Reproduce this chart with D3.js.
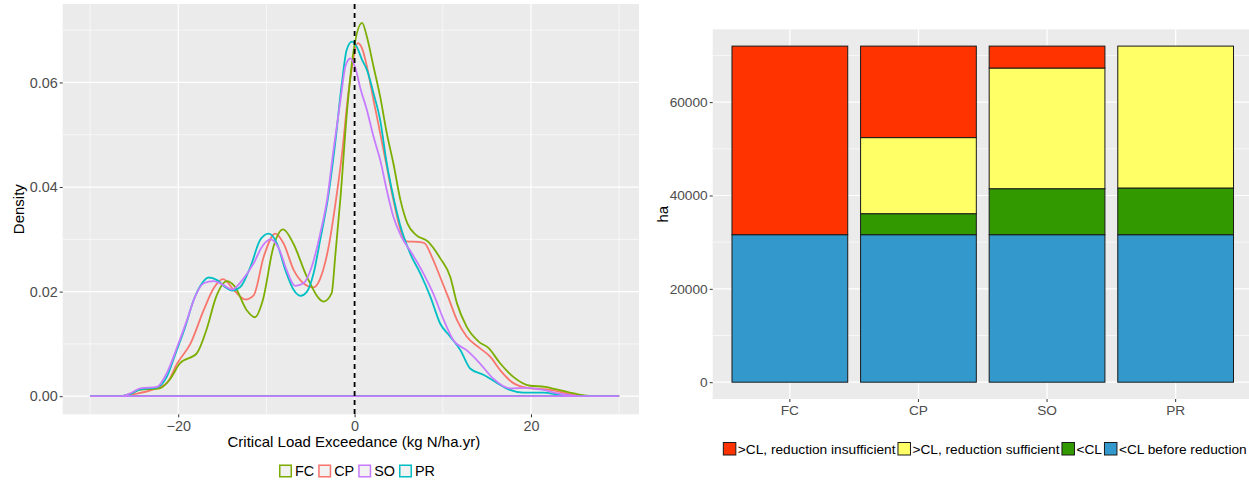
<!DOCTYPE html>
<html>
<head>
<meta charset="utf-8">
<script src="https://cdn.jsdelivr.net/npm/d3@7"></script>
<style>
  body { margin: 0; background: #fff; }
  svg { display: block; font-family: "Liberation Sans", Arial, sans-serif; }
</style>
</head>
<body>
<div id="chart"></div>
<script>
// Density curves, [exceedance, density]
var densFC = [[-30,0],[-26.5,0],[-25.5,0.0004],[-24.4,0.0012],[-22.1,0.0015],[-21.0,0.0031],[-19.8,0.0063],[-17.9,0.0082],[-16.8,0.0127],[-15.7,0.019],[-14.5,0.022],[-13.6,0.021],[-12.25,0.0165],[-11.3,0.0151],[-10.4,0.0184],[-9.2,0.0286],[-8.1,0.0319],[-6.95,0.0292],[-5.4,0.0228],[-3.5,0.0181],[-2.6,0.0197],[-2.2,0.0267],[-1.6,0.038],[-0.85,0.0547],[-0.1,0.0662],[0.85,0.0714],[1.4,0.0687],[2.15,0.063],[2.9,0.0573],[3.65,0.0503],[4.4,0.0445],[5.2,0.0375],[6.0,0.033],[7.0,0.0308],[8.3,0.0296],[9.7,0.0264],[10.85,0.0228],[11.6,0.0178],[12.7,0.0133],[14.1,0.0104],[15.2,0.0092],[16.5,0.0063],[18.0,0.0037],[19.9,0.002],[21.6,0.0018],[22.9,0.0013],[24.4,0.0007],[25.9,0.0002],[27,0],[30,0]];
var densCP = [[-30,0],[-26.5,0],[-25,0.0004],[-22.8,0.0013],[-21.3,0.0025],[-20.1,0.0063],[-18.6,0.0101],[-17.1,0.0165],[-16.0,0.0206],[-14.9,0.0224],[-13.7,0.0203],[-12.4,0.0185],[-11.45,0.0193],[-10.3,0.0267],[-9.0,0.0311],[-8.05,0.0292],[-6.9,0.0241],[-5.8,0.0216],[-4.65,0.0208],[-3.9,0.0225],[-2.9,0.029],[-2.2,0.0365],[-1.45,0.046],[-0.7,0.058],[-0.1,0.0649],[0.35,0.0675],[0.85,0.0665],[1.4,0.063],[2.15,0.0566],[2.9,0.0503],[3.65,0.0439],[4.4,0.0375],[5.2,0.0318],[5.9,0.0296],[7.2,0.0295],[7.9,0.0293],[8.75,0.0267],[9.7,0.0228],[10.6,0.019],[11.6,0.0146],[12.7,0.0114],[14.2,0.0092],[15.35,0.0076],[16.5,0.005],[18.0,0.0025],[19.9,0.0015],[21.8,0.0013],[23.7,0.0007],[25.2,0.0002],[26.5,0],[30,0]];
var densSO = [[-30,0],[-26.5,0],[-25.5,0.0005],[-24.3,0.0015],[-22.4,0.0018],[-21.3,0.0044],[-20.1,0.0095],[-19.0,0.0146],[-18.1,0.019],[-17.1,0.0216],[-16.0,0.022],[-14.9,0.0213],[-13.9,0.0204],[-12.6,0.0225],[-11.45,0.0254],[-10.5,0.0286],[-9.55,0.03],[-8.6,0.0283],[-7.7,0.0241],[-6.75,0.0211],[-5.8,0.0216],[-4.85,0.0248],[-3.9,0.0311],[-3.1,0.0378],[-2.4,0.047],[-1.6,0.0566],[-1.05,0.063],[-0.5,0.0646],[0.1,0.0627],[0.65,0.0589],[1.4,0.0547],[2.15,0.0496],[2.9,0.0452],[3.65,0.0394],[4.4,0.0343],[5.3,0.0305],[6.5,0.0273],[7.8,0.0235],[8.9,0.0197],[10.1,0.0146],[11.2,0.0107],[12.7,0.0088],[14.2,0.0063],[15.7,0.0034],[17.6,0.0015],[19.5,0.0016],[21.4,0.0012],[22.9,0.0006],[24.4,0.0002],[25.5,0],[30,0]];
var densPR = [[-30,0],[-26.5,0],[-25.5,0.0004],[-24.3,0.0013],[-22.4,0.0017],[-21.3,0.0037],[-20.3,0.0082],[-19.2,0.0133],[-18.25,0.0184],[-17.3,0.0216],[-16.55,0.0227],[-15.6,0.0222],[-14.7,0.0209],[-13.9,0.0202],[-12.95,0.0209],[-11.8,0.0248],[-10.7,0.0299],[-9.75,0.0311],[-8.8,0.0292],[-7.85,0.0241],[-6.9,0.0203],[-6.15,0.0192],[-5.4,0.02],[-4.65,0.0235],[-3.9,0.0299],[-3.0,0.0381],[-2.2,0.0484],[-1.45,0.0598],[-0.9,0.0662],[-0.3,0.0678],[0.25,0.0668],[0.85,0.0643],[1.4,0.0624],[2.15,0.0579],[2.9,0.0528],[3.65,0.0445],[4.4,0.0381],[5.2,0.0325],[6.3,0.0273],[7.45,0.0235],[8.6,0.019],[9.7,0.0139],[10.85,0.0114],[12.0,0.0088],[13.1,0.0053],[14.6,0.0041],[16.1,0.0026],[17.6,0.0012],[19.1,0.0007],[21.4,0.0007],[23.3,0.0002],[24.5,0],[30,0]];

var densTicksX = [-20, 0, 20];
var densTicksY = [0, 0.02, 0.04, 0.06];

// Stacked bars (ha)
var sites = ["FC", "CP", "SO", "PR"];
var belowBefore = [31600, 31600, 31600, 31600];
var belowCL = [0, 4500, 9850, 10000];
var sufficient = [0, 16300, 25850, 30400];
var insufficient = [40400, 19600, 4700, 0];
var barTicksY = [0, 20000, 40000, 60000];

var svg = d3.select("#chart").append("svg")
  .attr("width", 1249)
  .attr("height", 482);

// ---------------- left: density plot ----------------
var L = { left: 62.7, right: 639, top: 4, bottom: 414.3 };

var x = d3.scaleLinear().domain([-33.1, 32.25]).range([L.left, L.right]);
var y = d3.scaleLinear().domain([-0.00346, 0.075]).range([L.bottom, L.top]);

svg.append("rect")
  .attr("x", L.left).attr("y", L.top)
  .attr("width", L.right - L.left).attr("height", L.bottom - L.top)
  .attr("fill", "#EBEBEB");

var gl = svg.append("g");
[-30, -10, 10, 30].forEach(function (v) {
  gl.append("line").attr("x1", x(v)).attr("x2", x(v))
    .attr("y1", L.top).attr("y2", L.bottom)
    .attr("stroke", "#fff").attr("stroke-width", 0.6);
});
[0.01, 0.03, 0.05, 0.07].forEach(function (v) {
  gl.append("line").attr("y1", y(v)).attr("y2", y(v))
    .attr("x1", L.left).attr("x2", L.right)
    .attr("stroke", "#fff").attr("stroke-width", 0.6);
});
densTicksX.forEach(function (v) {
  gl.append("line").attr("x1", x(v)).attr("x2", x(v))
    .attr("y1", L.top).attr("y2", L.bottom)
    .attr("stroke", "#fff").attr("stroke-width", 1.2);
});
densTicksY.forEach(function (v) {
  gl.append("line").attr("y1", y(v)).attr("y2", y(v))
    .attr("x1", L.left).attr("x2", L.right)
    .attr("stroke", "#fff").attr("stroke-width", 1.2);
});

var line = d3.line()
  .x(function (d) { return x(d[0]); })
  .y(function (d) { return y(d[1]); })
  .curve(d3.curveMonotoneX);

// draw in ggplot group order so SO ends on top
var series = [
  { name: "CP", data: densCP, color: "#F8766D" },
  { name: "FC", data: densFC, color: "#7CAE00" },
  { name: "PR", data: densPR, color: "#00BFC4" },
  { name: "SO", data: densSO, color: "#C77CFF" }
];
series.forEach(function (s) {
  svg.append("path")
    .attr("d", line(s.data) + "Z")
    .attr("fill", "none")
    .attr("stroke", s.color)
    .attr("stroke-width", 1.8);
});

svg.append("line")
  .attr("x1", x(0)).attr("x2", x(0))
  .attr("y1", L.top).attr("y2", L.bottom)
  .attr("stroke", "#000").attr("stroke-width", 1.8)
  .attr("stroke-dasharray", "5,4");

var xAxis = svg.append("g")
  .attr("transform", "translate(0," + L.bottom + ")")
  .call(d3.axisBottom(x).tickValues(densTicksX).tickSize(3).tickPadding(3).tickFormat(d3.format("d")));
var yAxis = svg.append("g")
  .attr("transform", "translate(" + L.left + ",0)")
  .call(d3.axisLeft(y).tickValues(densTicksY).tickSize(3).tickPadding(2).tickFormat(d3.format(".2f")));
[xAxis, yAxis].forEach(function (a) {
  a.select(".domain").remove();
  a.selectAll(".tick line").attr("stroke", "#333");
  a.selectAll(".tick text").attr("fill", "#4D4D4D").style("font-size", "14.4px");
});

svg.append("text")
  .attr("x", (L.left + L.right) / 2 + 3).attr("y", 447)
  .attr("text-anchor", "middle").style("font-size", "15px")
  .text("Critical Load Exceedance (kg N/ha.yr)");

svg.append("text")
  .attr("transform", "translate(24," + (L.top + L.bottom) / 2 + ") rotate(-90)")
  .attr("text-anchor", "middle").style("font-size", "15px")
  .text("Density");

// legend, FC CP SO PR
var legendOrder = ["FC", "CP", "SO", "PR"];
var lg = svg.append("g");
var lx = 0;
legendOrder.forEach(function (name) {
  var s = series.filter(function (d) { return d.name === name; })[0];
  var item = lg.append("g").attr("transform", "translate(" + lx + ",0)");
  item.append("rect").attr("x", 0).attr("y", 0).attr("width", 13).attr("height", 13)
    .attr("fill", "#F2F2F2");
  item.append("rect").attr("x", 0.75).attr("y", 0.75).attr("width", 11.5).attr("height", 11.5)
    .attr("fill", "none").attr("stroke", s.color).attr("stroke-width", 1.5);
  var t = item.append("text").attr("x", 16).attr("y", 6.5).attr("dy", "0.36em")
    .style("font-size", "14.4px").text(name);
  lx += 16 + t.node().getComputedTextLength() + 4;
});
lg.attr("transform", "translate(" + (357 - (lx - 4) / 2) + ",464.5)");

// ---------------- right: stacked bars ----------------
var R = { left: 712.7, right: 1252.8, top: 29.3, bottom: 399 };

var xb = d3.scaleBand().domain(sites).range([R.left, R.right])
  .paddingInner(0.1).paddingOuter(0.15);
var yb = d3.scaleLinear().domain([-3600, 75600]).range([R.bottom, R.top]);

svg.append("rect")
  .attr("x", R.left).attr("y", R.top)
  .attr("width", R.right - R.left).attr("height", R.bottom - R.top)
  .attr("fill", "#EBEBEB");

[10000, 30000, 50000, 70000].forEach(function (v) {
  svg.append("line").attr("y1", yb(v)).attr("y2", yb(v))
    .attr("x1", R.left).attr("x2", R.right)
    .attr("stroke", "#fff").attr("stroke-width", 0.6);
});
barTicksY.forEach(function (v) {
  svg.append("line").attr("y1", yb(v)).attr("y2", yb(v))
    .attr("x1", R.left).attr("x2", R.right)
    .attr("stroke", "#fff").attr("stroke-width", 1.2);
});
sites.forEach(function (s) {
  var cx = xb(s) + xb.bandwidth() / 2;
  svg.append("line").attr("x1", cx).attr("x2", cx)
    .attr("y1", R.top).attr("y2", R.bottom)
    .attr("stroke", "#fff").attr("stroke-width", 1.2);
});

var layers = [
  { label: "<CL before reduction", values: belowBefore, color: "#3399CC" },
  { label: "<CL", values: belowCL, color: "#339900" },
  { label: ">CL, reduction sufficient", values: sufficient, color: "#FFFF66" },
  { label: ">CL, reduction insufficient", values: insufficient, color: "#FF3300" }
];

sites.forEach(function (s, i) {
  var base = 0;
  layers.forEach(function (layer) {
    var v = layer.values[i];
    if (v > 0) {
      svg.append("rect")
        .attr("x", xb(s))
        .attr("y", yb(base + v))
        .attr("width", xb.bandwidth())
        .attr("height", yb(base) - yb(base + v))
        .attr("fill", layer.color)
        .attr("stroke", "#1a1a1a")
        .attr("stroke-width", 1);
    }
    base += v;
  });
});

var xbAxis = svg.append("g")
  .attr("transform", "translate(0," + R.bottom + ")")
  .call(d3.axisBottom(xb).tickSize(3).tickPadding(3));
var ybAxis = svg.append("g")
  .attr("transform", "translate(" + R.left + ",0)")
  .call(d3.axisLeft(yb).tickValues(barTicksY).tickSize(3).tickPadding(2).tickFormat(d3.format("d")));
[xbAxis, ybAxis].forEach(function (a) {
  a.select(".domain").remove();
  a.selectAll(".tick line").attr("stroke", "#333");
  a.selectAll(".tick text").attr("fill", "#4D4D4D").style("font-size", "13.7px");
});

svg.append("text")
  .attr("transform", "translate(668," + (R.top + R.bottom) / 2 + ") rotate(-90)")
  .attr("text-anchor", "middle").style("font-size", "15px")
  .text("ha");

// legend, top layer first
var rg = svg.append("g");
var rx = 0;
layers.slice().reverse().forEach(function (layer) {
  var item = rg.append("g").attr("transform", "translate(" + rx + ",0)");
  item.append("rect").attr("x", 0.5).attr("y", 0.5).attr("width", 12.5).attr("height", 12.5)
    .attr("fill", layer.color).attr("stroke", "#1a1a1a").attr("stroke-width", 1);
  var t = item.append("text").attr("x", 15).attr("y", 7).attr("dy", "0.36em")
    .style("font-size", "13.7px").text(layer.label);
  rx += 15 + t.node().getComputedTextLength() + 2;
});
rg.attr("transform", "translate(" + ((R.left + R.right) / 2 - (rx - 2) / 2 + 2) + ",442)");
</script>
</body>
</html>
